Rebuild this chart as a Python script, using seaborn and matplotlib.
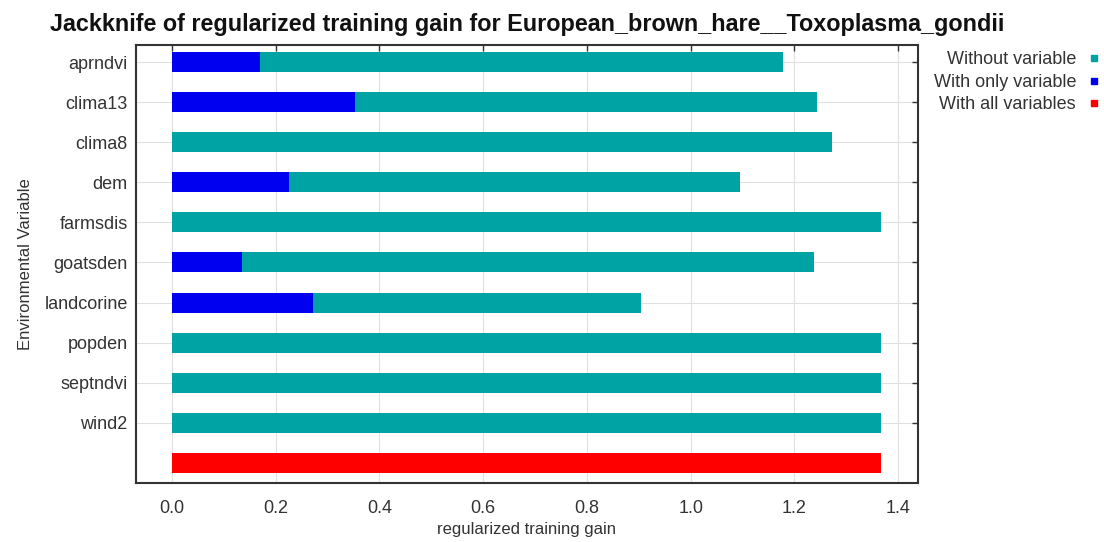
import matplotlib
matplotlib.use("Agg")
import matplotlib.pyplot as plt
from matplotlib.lines import Line2D
import seaborn as sns
import pandas as pd

variables = ["aprndvi", "clima13", "clima8", "dem", "farmsdis", "goatsden",
             "landcorine", "popden", "septndvi", "wind2"]
without_variable = [1.177, 1.244, 1.272, 1.095, 1.367, 1.238, 0.904, 1.367, 1.367, 1.367]
with_only_variable = [0.170, 0.353, 0.0, 0.226, 0.0, 0.136, 0.272, 0.0, 0.0, 0.0]
with_all_variables = 1.367
all_label = "(all)"
series_names = ["Without variable", "With only variable", "With all variables"]
colors = ["#00A3A3", "#0000F0", "#FF0000"]
xticks = [0.0, 0.2, 0.4, 0.6, 0.8, 1.0, 1.2, 1.4]

rows = []
for v, w, o in zip(variables, without_variable, with_only_variable):
    rows.append({"var": v, "gain": w, "kind": series_names[0]})
    rows.append({"var": v, "gain": o, "kind": series_names[1]})
rows.append({"var": all_label, "gain": with_all_variables, "kind": series_names[2]})
df = pd.DataFrame(rows)

sns.set_style("white")
plt.rcParams["font.family"] = ["Liberation Sans", "DejaVu Sans"]

fig = plt.figure(figsize=(11.04, 5.42), dpi=100)
ax = fig.add_axes([0.1232, 0.109, 0.7083, 0.808])

sns.barplot(data=df, x="gain", y="var", hue="kind", order=variables + [all_label],
            hue_order=series_names, palette=colors, dodge=False, width=0.5,
            saturation=1, orient="h", legend=False, ax=ax, zorder=3, linewidth=0)

ax.set_xlim(-0.069, 1.438)
ax.set_ylim(10.5, -0.425)
ax.set_xticks(xticks)
ax.set_xticklabels([f"{t:.1f}" for t in xticks], fontsize=13, color="#333333")
ax.set_yticks(range(len(variables)))
ax.set_yticklabels(variables, fontsize=13, color="#333333")
ax.tick_params(axis="both", direction="in", length=4, width=1, top=True, right=True,
               colors="#333333", pad=6)
ax.tick_params(axis="x", labelcolor="#333333", pad=12)
ax.grid(True, color="#e0e0e0", linewidth=0.8, zorder=0)
ax.set_axisbelow(True)
for s in ax.spines.values():
    s.set_visible(True)
    s.set_color("#333333")
    s.set_linewidth(1.5)

ax.set_xlabel("regularized training gain", fontsize=12, color="#333333", labelpad=4)
ax.set_ylabel("Environmental Variable", fontsize=12, color="#333333", labelpad=8)
ax.set_title("Jackknife of regularized training gain for European_brown_hare__Toxoplasma_gondii",
             fontsize=16.8, fontweight="bold", color="#111111", pad=10, x=0.5)

handles = [Line2D([0], [0], marker="s", linestyle="none", markersize=5,
                  markerfacecolor=c, markeredgecolor=c) for c in colors]
fig.legend(handles, series_names, loc="upper right", bbox_to_anchor=(1.014, 0.935),
           frameon=False, markerfirst=False, fontsize=13, handletextpad=0.5,
           labelspacing=0.3, labelcolor="#333333", handlelength=1.0)

fig.savefig("out.png", dpi=100, facecolor="white")
